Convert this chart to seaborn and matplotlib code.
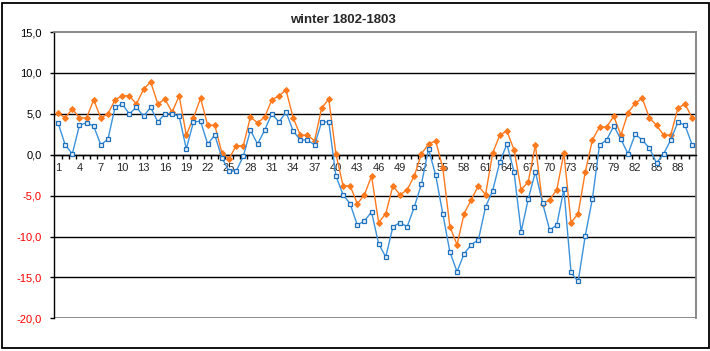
import seaborn as sns
import matplotlib.pyplot as plt
import pandas as pd
from matplotlib.patches import Rectangle

# day index of the winter (1..90)
days = list(range(1, 91))

# orange series (diamonds)
orange = [5.1, 4.5, 5.6, 4.5, 4.5, 6.7, 4.5, 5.0, 6.7, 7.2,
          7.2, 6.2, 8.0, 8.9, 6.2, 6.8, 5.2, 7.2, 2.4, 4.5,
          6.9, 3.6, 3.6, 0.2, -0.5, 1.1, 1.1, 4.6, 3.9, 4.6,
          6.7, 7.2, 7.9, 4.5, 2.4, 2.4, 1.7, 5.7, 6.8, 0.1,
          -3.8, -3.8, -6.0, -4.9, -2.6, -8.3, -7.2, -3.8, -4.9, -4.3,
          -2.6, 0.1, 1.3, 1.7, -1.6, -8.8, -11.0, -7.2, -5.5, -3.8,
          -4.9, 0.2, 2.4, 2.9, 0.6, -4.3, -3.3, 1.2, -6.0, -5.5,
          -4.3, 0.2, -8.3, -7.2, -2.1, 1.8, 3.4, 3.4, 4.7, 2.4,
          5.1, 6.3, 6.9, 4.5, 3.6, 2.4, 2.4, 5.7, 6.2, 4.5]

# blue series (open squares)
blue = [3.9, 1.2, 0.1, 3.6, 3.9, 3.5, 1.2, 1.9, 5.8, 6.2,
        5.0, 5.8, 4.7, 5.8, 4.0, 5.0, 5.0, 4.7, 0.7, 4.0,
        4.1, 1.3, 2.4, -0.4, -2.0, -2.0, -0.2, 3.0, 1.3, 3.0,
        5.0, 4.0, 5.2, 2.9, 1.8, 1.8, 1.2, 4.0, 4.0, -2.6,
        -4.9, -6.0, -8.6, -8.1, -7.0, -10.9, -12.5, -8.8, -8.3, -8.8,
        -6.4, -3.6, 0.7, -2.5, -7.2, -11.9, -14.3, -12.1, -11.0, -10.4,
        -6.4, -4.4, -0.9, 1.3, -2.1, -9.4, -5.4, -2.1, -5.9, -9.2,
        -8.6, -4.2, -14.4, -15.5, -9.9, -5.4, 1.2, 1.8, 3.5, 1.9,
        0.1, 2.5, 1.8, 0.8, -1.0, 0.1, 1.8, 4.0, 3.6, 1.2]

y_ticks = [-20, -15, -10, -5, 0, 5, 10, 15]
x_labels = list(range(1, 91, 3))

df = pd.DataFrame({"day": days, "orange": orange, "blue": blue})

sns.set_style("white")
plt.rcParams["font.family"] = ["Liberation Sans", "DejaVu Sans"]

fig = plt.figure(figsize=(7.1, 3.51), dpi=100)
ax = fig.add_axes([54.5 / 710, 1 - 318.3 / 351, (695.7 - 54.5) / 710, (318.3 - 32) / 351])

# horizontal gridlines
for v in y_ticks[1:-1]:
    ax.axhline(v, color="black", lw=1.0, zorder=1)
ax.axhline(-20, color="#808080", lw=1.3, zorder=1)

sns.lineplot(data=df, x="day", y="orange", ax=ax, color="#ff7a1f", lw=1.0,
             marker="D", markersize=3.0, markeredgecolor="#ff7a1f",
             markerfacecolor="#ff7a1f", zorder=3)
sns.lineplot(data=df, x="day", y="blue", ax=ax, color="#3d92dc", lw=1.0,
             marker="s", markersize=3.0, markeredgecolor="#1f70bd",
             markeredgewidth=0.9, markerfacecolor="#e6f0fa", zorder=4)

ax.set_xlim(0.5, 90.5)
ax.set_ylim(-20, 15)
ax.set_xlabel("")
ax.set_ylabel("")

# y axis
ax.set_yticks(y_ticks)
ax.set_yticklabels([f"{v:.1f}".replace(".", ",") for v in y_ticks])
for lbl, v in zip(ax.get_yticklabels(), y_ticks):
    lbl.set_color("red" if v < 0 else "black")
ax.tick_params(axis="y", direction="out", length=3, width=1, pad=6,
               labelsize=8, left=True, color="black")

# x axis sits at zero
ax.spines["bottom"].set_position(("data", 0))
ax.spines["bottom"].set_color("black")
ax.spines["bottom"].set_linewidth(1.0)
ax.set_xticks(x_labels)
ax.set_xticklabels([str(v) for v in x_labels])
ax.set_xticks([d + 0.5 for d in days[:-1]], minor=True)
ax.tick_params(axis="x", which="major", length=0, pad=6, labelsize=8, bottom=True)
ax.tick_params(axis="x", which="minor", direction="out", length=3, width=1,
               bottom=True, color="black")

ax.spines["left"].set_color("black")
ax.spines["left"].set_linewidth(1.0)
for s in ["top", "right"]:
    ax.spines[s].set_color("#808080")
    ax.spines[s].set_linewidth(1.3)

fig.text(343 / 710, 1 - 20 / 351, "winter 1802-1803", ha="center", va="center",
         fontsize=9.5, fontweight="bold")

# chart border
fig.patches.append(Rectangle((2 / 710, 3.3 / 351), 707 / 710, 344.7 / 351,
                             transform=fig.transFigure, fill=False,
                             edgecolor="black", lw=1.3))

fig.savefig("out.png", dpi=100)
